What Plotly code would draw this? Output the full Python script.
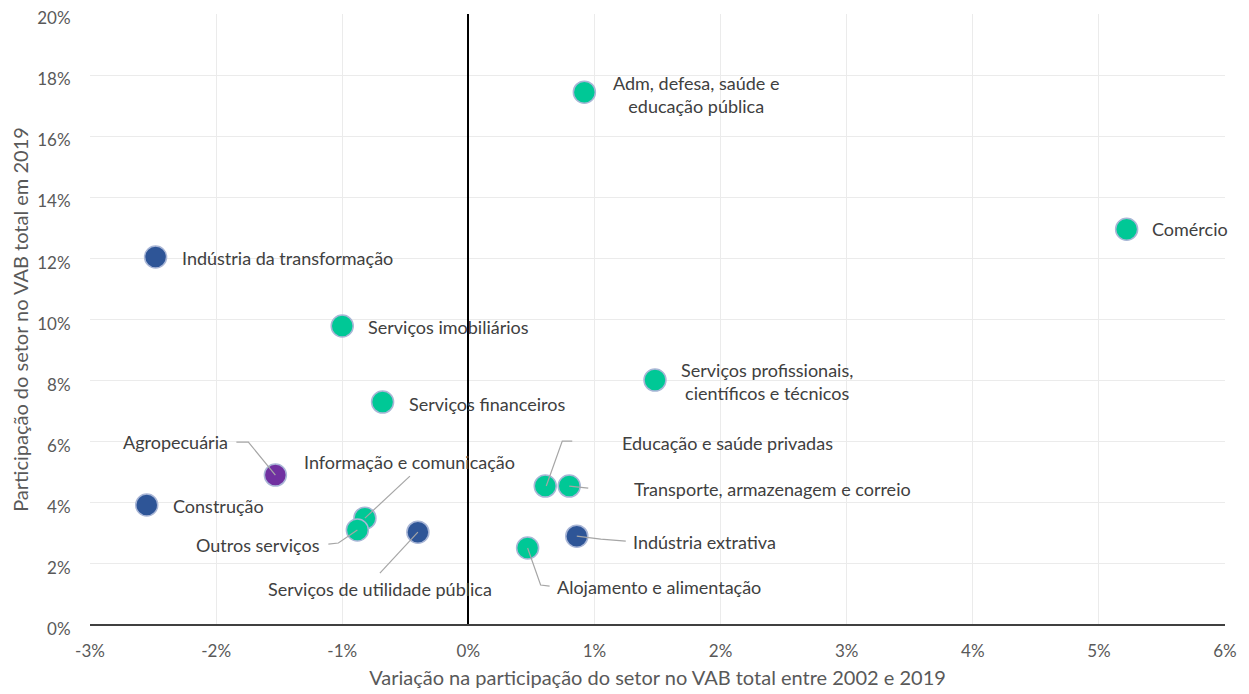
import plotly.graph_objects as go

# ---- data ----
sectors = [
    "Adm, defesa, saúde e<br>educação pública",
    "Comércio",
    "Indústria da transformação",
    "Serviços imobiliários",
    "Serviços profissionais,<br>científicos e técnicos",
    "Serviços financeiros",
    "Agropecuária",
    "Informação e comunicação",
    "Construção",
    "Outros serviços",
    "Serviços de utilidade pública",
    "Educação e saúde privadas",
    "Transporte, armazenagem e correio",
    "Indústria extrativa",
    "Alojamento e alimentação",
]
variation = [0.92, 5.22, -2.48, -1.00, 1.48, -0.68, -1.53, -0.82, -2.55, -0.88, -0.40, 0.61, 0.80, 0.86, 0.47]
share_2019 = [17.45, 12.96, 12.05, 9.79, 8.02, 7.30, 4.91, 3.50, 3.93, 3.11, 3.04, 4.55, 4.55, 2.91, 2.52]
group = ["serv", "serv", "ind", "serv", "serv", "serv", "agro", "serv", "ind", "serv", "ind", "serv", "serv", "ind", "serv"]

x_ticks = [-3, -2, -1, 0, 1, 2, 3, 4, 5, 6]
x_ticklabels = ["-3%", "-2%", "-1%", "0%", "1%", "2%", "3%", "4%", "5%", "6%"]
y_ticks = [0, 2, 4, 6, 8, 10, 12, 14, 16, 18, 20]
y_ticklabels = [f"{v}%" for v in y_ticks]

# ---- styles ----
colors = {"serv": "#00C896", "ind": "#2E5597", "agro": "#7030A0"}
FONT = "Lato, Calibri, sans-serif"
TXT = "#404040"
LEAD = "#A6A6A6"
LBL_SIZE = 18

# label placement: (xanchor, xshift px, yshift px)
label_pos = [
    ("center", 112, -2),
    ("left", 23, 0),
    ("left", 24, -1),
    ("left", 24, -1),
    ("center", 112, -1),
    ("left", 24, -2),
    ("right", -45, 33),
    ("center", 45, 56),
    ("left", 24, -1),
    ("right", -35, -15),
    ("center", -38, -57),
    ("left", 75, 43),
    ("left", 63, -3),
    ("left", 54, -6),
    ("left", 27, -39),
]
# leader lines, pixel offsets relative to the point (y up)
leaders = {
    6: [(-39, 33), (-27, 33), (0, 0)],
    7: [(45, 42), (0, 0)],
    9: [(-29, -14), (-19, -13), (0, 0)],
    10: [(-38, -41), (0, 0)],
    11: [(27, 45), (17, 45), (1, 0)],
    12: [(0, 0), (19, -2)],
    13: [(0, 0), (24, -3), (49, -5)],
    14: [(0, 0), (13, -37), (22, -38)],
}

fig = go.Figure()
fig.add_trace(go.Scatter(
    x=variation, y=share_2019, mode="markers",
    marker=dict(size=22, color=[colors[g] for g in group],
                line=dict(color="#A9B6D6", width=1.5), opacity=1),
    hovertext=[s.replace("<br>", " ") for s in sectors], hoverinfo="text",
    showlegend=False,
))

annotations = []
for i, s in enumerate(sectors):
    xa, xs, ys = label_pos[i]
    annotations.append(dict(
        x=variation[i], y=share_2019[i], xref="x", yref="y", text=s,
        showarrow=False, xanchor=xa, yanchor="middle", xshift=xs, yshift=ys,
        align="center", font=dict(family=FONT, size=LBL_SIZE, color=TXT),
    ))

shapes = []
for i, pts in leaders.items():
    path = "M " + " L ".join(f"{px},{py}" for px, py in pts)
    shapes.append(dict(
        type="path", path=path, xsizemode="pixel", ysizemode="pixel",
        xanchor=variation[i], yanchor=share_2019[i], xref="x", yref="y",
        line=dict(color=LEAD, width=1.2), layer="above",
    ))

fig.update_layout(
    width=1249, height=694,
    margin=dict(l=82, r=32, t=6, b=77),
    paper_bgcolor="white", plot_bgcolor="white",
    font=dict(family=FONT, color="#595959"),
    annotations=annotations, shapes=shapes,
    xaxis=dict(
        range=[-3, 6], tickvals=x_ticks, ticktext=x_ticklabels,
        showgrid=True, gridcolor="#EBEBEB", gridwidth=1,
        zeroline=True, zerolinecolor="#000000", zerolinewidth=1.5,
        ticks="outside", ticklen=11, tickcolor="rgba(0,0,0,0)",
        tickfont=dict(family=FONT, size=17, color="#595959"),
        ticklabeloverflow="allow",
        title=dict(text="Variação na participação do setor no VAB total entre 2002 e 2019",
                   font=dict(family=FONT, size=20, color="#595959"), standoff=10),
        automargin=False, fixedrange=True,
    ),
    yaxis=dict(
        range=[0, 20.01], tickvals=y_ticks, ticktext=y_ticklabels,
        showgrid=True, gridcolor="#EBEBEB", gridwidth=1,
        zeroline=True, zerolinecolor="#404040", zerolinewidth=2,
        ticks="outside", ticklen=15, tickcolor="rgba(0,0,0,0)",
        tickfont=dict(family=FONT, size=17, color="#595959"),
        ticklabeloverflow="allow", ticklabelshift=4,
        title=dict(text="Participação do setor no VAB total em 2019",
                   font=dict(family=FONT, size=20, color="#595959"), standoff=6),
        automargin=False, fixedrange=True,
    ),
)

fig.write_html("out.html")
